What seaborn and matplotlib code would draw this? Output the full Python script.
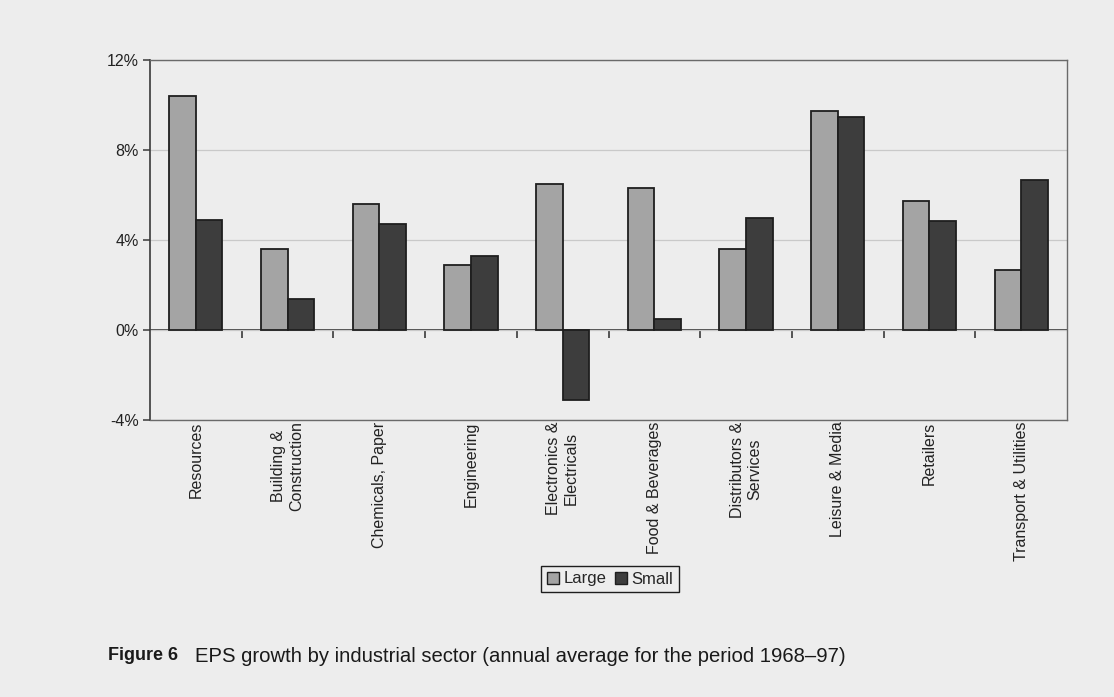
import matplotlib
matplotlib.use("Agg")
import matplotlib.pyplot as plt
import seaborn as sns
import pandas as pd
import numpy as np
from matplotlib.ticker import FuncFormatter
from matplotlib.patches import Patch

sectors = ["Resources", "Building &\nConstruction", "Chemicals, Paper", "Engineering",
           "Electronics &\nElectricals", "Food & Beverages", "Distributors &\nServices",
           "Leisure & Media", "Retailers", "Transport & Utilities"]
large = [10.4, 3.6, 5.6, 2.9, 6.5, 6.3, 3.6, 9.75, 5.75, 2.67]
small = [4.9, 1.4, 4.7, 3.3, -3.1, 0.5, 5.0, 9.45, 4.85, 6.65]
series = ["Large", "Small"]
yticks = [-4, 0, 4, 8, 12]

df = pd.DataFrame({
    "sector": sectors * 2,
    "series": ["Large"] * len(sectors) + ["Small"] * len(sectors),
    "value": large + small,
})

sns.set_theme(style="white")
plt.rcParams["font.family"] = ["Liberation Sans", "DejaVu Sans"]

bg = "#ededed"
fig = plt.figure(figsize=(11.14, 6.97), dpi=100, facecolor=bg)
ax = fig.add_axes([0.1347, 0.3974, 0.8231, 0.5165])
ax.set_facecolor(bg)

sns.barplot(data=df, x="sector", y="value", hue="series", order=sectors,
            hue_order=series, palette={"Large": "#a4a4a4", "Small": "#3d3d3d"},
            width=0.58, gap=0, edgecolor="#1e1e1e", linewidth=1.3,
            saturation=1, ax=ax, legend=False, zorder=3)

ax.set_ylim(-4, 12)
ax.set_xlim(-0.5, len(sectors) - 0.5)
ax.set_yticks(yticks)
ax.yaxis.set_major_formatter(FuncFormatter(lambda v, p: f"{v:.0f}%"))
ax.grid(axis="y", color="#c9c9c9", linewidth=0.9, zorder=0)
ax.grid(axis="x", visible=False)
ax.set_xlabel("")
ax.set_ylabel("")

for side in ["top", "right", "bottom"]:
    ax.spines[side].set_color("#6a6a6a")
    ax.spines[side].set_linewidth(1.0)
ax.spines["left"].set_color("#3a3a3a")
ax.spines["left"].set_linewidth(1.2)

ax.tick_params(axis="y", direction="out", length=5, width=1.1, color="#3a3a3a",
               labelsize=11.5, labelcolor="#222222", pad=3, left=True)
ax.tick_params(axis="x", length=0, labelsize=11.5, labelcolor="#222222", pad=1)
plt.setp(ax.get_xticklabels(), rotation=90, ha="center", va="top")

# zero axis line with category-boundary ticks
zero_frac = (0 - yticks[0]) / (yticks[-1] - yticks[0])
sec = ax.secondary_xaxis(zero_frac)
sec.set_xticks(np.arange(len(sectors) - 1) + 0.5)
sec.set_xticklabels([])
sec.tick_params(axis="x", direction="out", length=6, width=1.2, color="#3a3a3a")
sec.spines["bottom"].set_color("#3a3a3a")
sec.spines["bottom"].set_linewidth(1.3)
sec.spines["bottom"].set_zorder(5)

# legend
handles = [Patch(facecolor="#a4a4a4", edgecolor="#1e1e1e", linewidth=1.0, label="Large"),
           Patch(facecolor="#3d3d3d", edgecolor="#1e1e1e", linewidth=1.0, label="Small")]
leg = fig.legend(handles=handles, loc="center", bbox_to_anchor=(610 / 1114, 1 - 579 / 697),
                 ncol=2, frameon=True, fancybox=False, edgecolor="#1e1e1e",
                 facecolor=bg, framealpha=1,
                 handlelength=0.75, handleheight=0.75, handletextpad=0.25,
                 columnspacing=0.5, borderpad=0.35, borderaxespad=0,
                 prop={"size": 12})
leg.get_frame().set_linewidth(1.0)

# caption
fig.text(108 / 1114, 1 - 656 / 697, "Figure 6", fontsize=13, fontweight="bold",
         color="#1a1a1a", va="center", ha="left")
fig.text(195 / 1114, 1 - 656 / 697,
         "EPS growth by industrial sector (annual average for the period 1968\u201397)",
         fontsize=14.6, color="#1a1a1a", va="center", ha="left")

fig.savefig("out.png", dpi=100, facecolor=bg)
